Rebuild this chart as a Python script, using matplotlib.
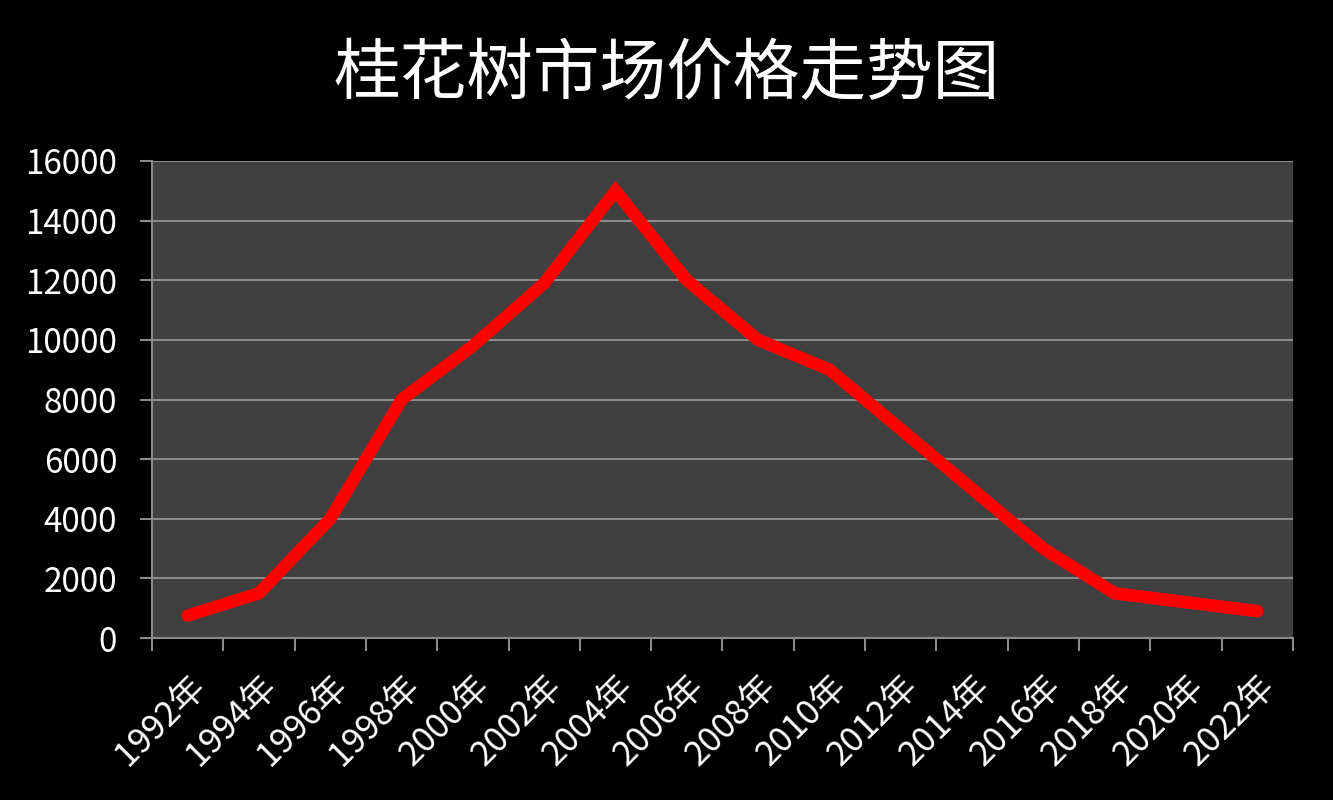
import matplotlib
matplotlib.use("Agg")
import matplotlib.pyplot as plt
import numpy as np

plt.rcParams['font.family'] = ['Noto Sans CJK SC', 'DejaVu Sans']
plt.rcParams['font.weight'] = 'light'

# data
years = ['1992年', '1994年', '1996年', '1998年', '2000年', '2002年', '2004年', '2006年',
         '2008年', '2010年', '2012年', '2014年', '2016年', '2018年', '2020年', '2022年']
prices = [750, 1500, 4000, 8000, 9800, 11900, 15000, 12000,
          10000, 9000, 7000, 5000, 3000, 1500, 1200, 900]
y_ticks = [0, 2000, 4000, 6000, 8000, 10000, 12000, 14000, 16000]
title = '桂花树市场价格走势图'

fig = plt.figure(figsize=(13.33, 8), dpi=100, facecolor='black')
ax = fig.add_axes([0.114, 0.2025, 0.856, 0.59625])
ax.set_facecolor('#404040')

x = np.arange(len(years))
ax.plot(x, prices, color='#ff0000', linewidth=9, solid_capstyle='round',
        solid_joinstyle='miter', zorder=3)

ax.set_xlim(-0.5, len(years) - 0.5)
ax.set_ylim(0, 16000)
ax.set_yticks(y_ticks)
ax.set_yticklabels([str(v) for v in y_ticks])
ax.yaxis.grid(True, color='#8a8a8a', linewidth=1.5)
ax.set_axisbelow(True)

# category labels at centres, tick marks at boundaries
ax.set_xticks(x)
ax.set_xticklabels(years, rotation=45, ha='right', rotation_mode='anchor')
ax.set_xticks(np.arange(-0.5, len(years)), minor=True)
ax.tick_params(axis='x', which='major', length=0, pad=22, labelsize=25, colors='white')
ax.tick_params(axis='x', which='minor', length=9, width=1.5, color='#8a8a8a')
ax.tick_params(axis='y', length=9, width=1.5, color='#8a8a8a', labelcolor='white',
               labelsize=24, pad=16)

for s in ['top', 'right']:
    ax.spines[s].set_visible(False)
for s in ['left', 'bottom']:
    ax.spines[s].set_color('#8a8a8a')
    ax.spines[s].set_linewidth(1.5)

fig.text(0.5, 0.906, title, ha='center', va='center', color='white', fontsize=48)

fig.savefig('out.png', dpi=100, facecolor='black')
plt.close(fig)
